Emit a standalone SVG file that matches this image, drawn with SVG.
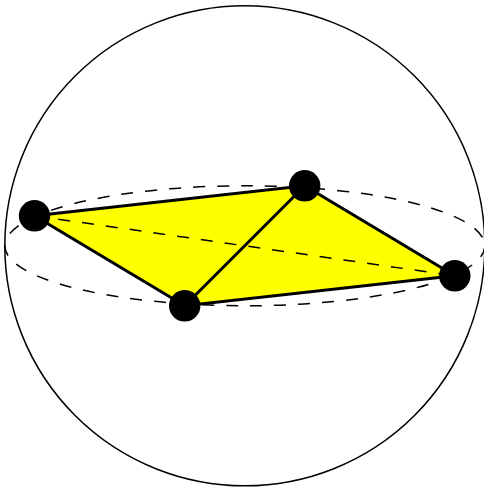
<svg xmlns="http://www.w3.org/2000/svg" width="484" height="488" viewBox="0 0 484 488">
<style>
.o{fill:none;stroke:#000;stroke-width:1.5}
.d{fill:none;stroke:#000;stroke-width:1.5;stroke-dasharray:12 12}
.e{fill:none;stroke:#000;stroke-width:3}
.v{fill:#000}
</style>
<g id="sphere">
<circle class="o" cx="244.800" cy="245.800" r="240"/>
<ellipse class="d" cx="244.800" cy="245.800" rx="240" ry="60"/>
</g>
<polygon id="face" points="34.500,215.800 304.700,185.800 454.800,275.800 184.700,305.800" fill="#ff0"/>
<g id="connectors">
<line class="d" x1="34.500" y1="215.800" x2="454.800" y2="275.800"/>
<path class="e" d="M34.500 215.800L304.700 185.800L454.800 275.800L184.700 305.800ZM184.700 305.800L304.700 185.800"/>
</g>
<g id="node1"><circle class="v" cx="34.500" cy="215.800" r="15.700"/></g>
<g id="node2"><circle class="v" cx="304.700" cy="185.800" r="15.700"/></g>
<g id="node3"><circle class="v" cx="454.800" cy="275.800" r="15.700"/></g>
<g id="node4"><circle class="v" cx="184.700" cy="305.800" r="15.700"/></g>
</svg>
